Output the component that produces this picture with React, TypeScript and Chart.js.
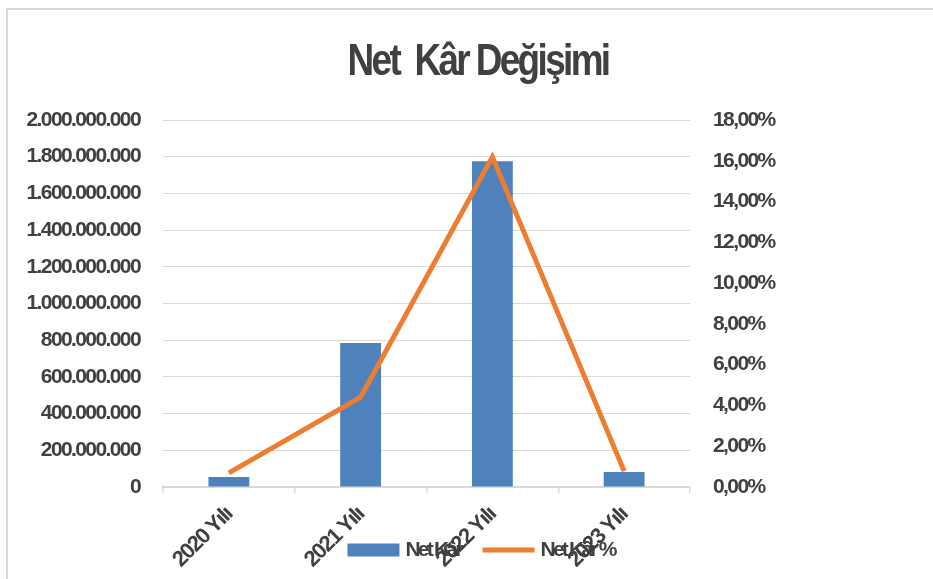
import React, { useEffect, useRef } from 'react';
import { Chart, registerables } from 'chart.js';

Chart.register(...registerables);

const categories = ['2020 Yılı', '2021 Yılı', '2022 Yılı', '2023 Yılı'];
const netKar = [55000000, 785000000, 1775000000, 82000000];
const netKarYuzde = [0.69, 4.41, 16.19, 0.78];
const seriesNames = ['Net Kâr', 'Net Kâr %'];
const titleText = 'Net  Kâr Değişimi';

const FONT = "'Liberation Sans', Arial, sans-serif";
const TEXT = '#404040';
const GRID = '#d9d9d9';
const BLUE = '#4f81bd';
const ORANGE = '#ed7d31';

function fmtThousands(v: number): string {
  return Math.round(v).toString().replace(/\B(?=(\d{3})+(?!\d))/g, '.');
}
function fmtPct(v: number): string {
  return v.toFixed(2).replace('.', ',') + '%';
}

// tight character spacing for axis texts (as in the reference rendering)
const spacingPlugin = {
  id: 'tightSpacing',
  beforeUpdate(chart: any) {
    chart.ctx.letterSpacing = '-1.6px';
  },
  beforeDraw(chart: any) {
    chart.ctx.letterSpacing = '-1.6px';
  },
};

const titlePlugin = {
  id: 'condensedTitle',
  afterDraw(chart: any) {
    const ctx = chart.ctx;
    ctx.save();
    ctx.font = `bold 45px ${FONT}`;
    ctx.letterSpacing = '-3.2px';
    ctx.fillStyle = TEXT;
    ctx.textAlign = 'center';
    ctx.textBaseline = 'alphabetic';
    ctx.translate(chart.width / 2 + 2, 64);
    ctx.scale(0.82, 1);
    ctx.fillText(titleText, 0, 0);
    ctx.restore();
  },
};

const legendPlugin = {
  id: 'excelLegend',
  afterDraw(chart: any) {
    const ctx = chart.ctx;
    ctx.save();
    ctx.font = `bold 21px ${FONT}`;
    ctx.letterSpacing = '-2.8px';
    const ds = [...chart.data.datasets].sort(
      (a: any, b: any) => seriesNames.indexOf(a.label) - seriesNames.indexOf(b.label)
    );
    const swatch = 52;
    const gap = 6;
    const itemGap = 22;
    const widths = ds.map((d: any) => ctx.measureText(d.label).width);
    const total =
      ds.length * (swatch + gap) +
      widths.reduce((a: number, b: number) => a + b, 0) +
      itemGap * (ds.length - 1);
    let x = chart.width / 2 - total / 2 + 5;
    const y = chart.chartArea.bottom + 63;
    ds.forEach((d: any, i: number) => {
      if (d.type === 'line') {
        ctx.strokeStyle = d.borderColor;
        ctx.lineWidth = 5;
        ctx.beginPath();
        ctx.moveTo(x, y);
        ctx.lineTo(x + swatch, y);
        ctx.stroke();
      } else {
        ctx.fillStyle = d.backgroundColor;
        ctx.fillRect(x, y - 6.5, swatch, 13);
      }
      x += swatch + gap;
      ctx.fillStyle = TEXT;
      ctx.textBaseline = 'middle';
      ctx.textAlign = 'left';
      ctx.fillText(d.label, x, y);
      x += widths[i] + itemGap;
    });
    ctx.restore();
  },
};

export default function App() {
  const ref = useRef<HTMLCanvasElement | null>(null);

  useEffect(() => {
    if (!ref.current) return;
    const chart = new Chart(ref.current, {
      type: 'bar',
      data: {
        labels: categories,
        datasets: [
          {
            type: 'line',
            label: seriesNames[1],
            data: netKarYuzde,
            yAxisID: 'y1',
            borderColor: ORANGE,
            backgroundColor: ORANGE,
            borderWidth: 5,
            pointRadius: 0,
            tension: 0,
            order: 0,
          } as any,
          {
            type: 'bar',
            label: seriesNames[0],
            data: netKar,
            yAxisID: 'y',
            backgroundColor: BLUE,
            borderWidth: 0,
            categoryPercentage: 1,
            barPercentage: 0.31,
            order: 1,
          } as any,
        ],
      },
      plugins: [spacingPlugin, titlePlugin, legendPlugin],
      options: {
        responsive: false,
        animation: false,
        layout: { padding: { top: 109, left: 0, right: 0, bottom: 0 } },
        plugins: {
          legend: { display: false },
          tooltip: { enabled: false },
          title: { display: false },
        },
        scales: {
          x: {
            type: 'category',
            offset: true,
            grid: {
              offset: true,
              drawOnChartArea: false,
              drawTicks: true,
              tickLength: 6,
              color: GRID,
              lineWidth: 1.5,
            },
            border: { display: true, color: GRID, width: 2 },
            ticks: {
              minRotation: 45,
              maxRotation: 45,
              autoSkip: false,
              color: TEXT,
              padding: 9,
              font: { family: FONT, size: 22, weight: 'bold' },
            },
            afterFit: (s: any) => {
              s.height = 92;
            },
          },
          y: {
            position: 'left',
            min: 0,
            max: 2000000000,
            ticks: {
              stepSize: 200000000,
              color: TEXT,
              padding: 23,
              font: { family: FONT, size: 21, weight: 'bold' },
              callback: (v: any) => fmtThousands(Number(v)),
            },
            grid: { color: GRID, lineWidth: 1, drawTicks: false },
            border: { display: false },
            afterFit: (s: any) => {
              s.width = 154;
            },
          },
          y1: {
            position: 'right',
            min: 0,
            max: 18,
            ticks: {
              stepSize: 2,
              color: TEXT,
              padding: 23,
              font: { family: FONT, size: 21, weight: 'bold' },
              callback: (v: any) => fmtPct(Number(v)),
            },
            grid: { display: false, drawTicks: false },
            border: { display: false },
            afterFit: (s: any) => {
              s.width = 253;
            },
          },
        },
      } as any,
    });
    return () => chart.destroy();
  }, []);

  return (
    <div
      style={{
        position: 'fixed',
        left: 0,
        top: 0,
        width: 933,
        height: 579,
        overflow: 'hidden',
        background: '#fff',
      }}
    >
      <div
        style={{
          position: 'absolute',
          left: 6,
          top: 8,
          width: 1000,
          height: 1000,
          borderLeft: '2px solid #d9d9d9',
          borderTop: '2px solid #d9d9d9',
        }}
      />
      <div style={{ position: 'absolute', left: 9, top: 11, width: 934, height: 568 }}>
        <canvas ref={ref} width={934} height={568} style={{ display: 'block' }} />
      </div>
    </div>
  );
}
